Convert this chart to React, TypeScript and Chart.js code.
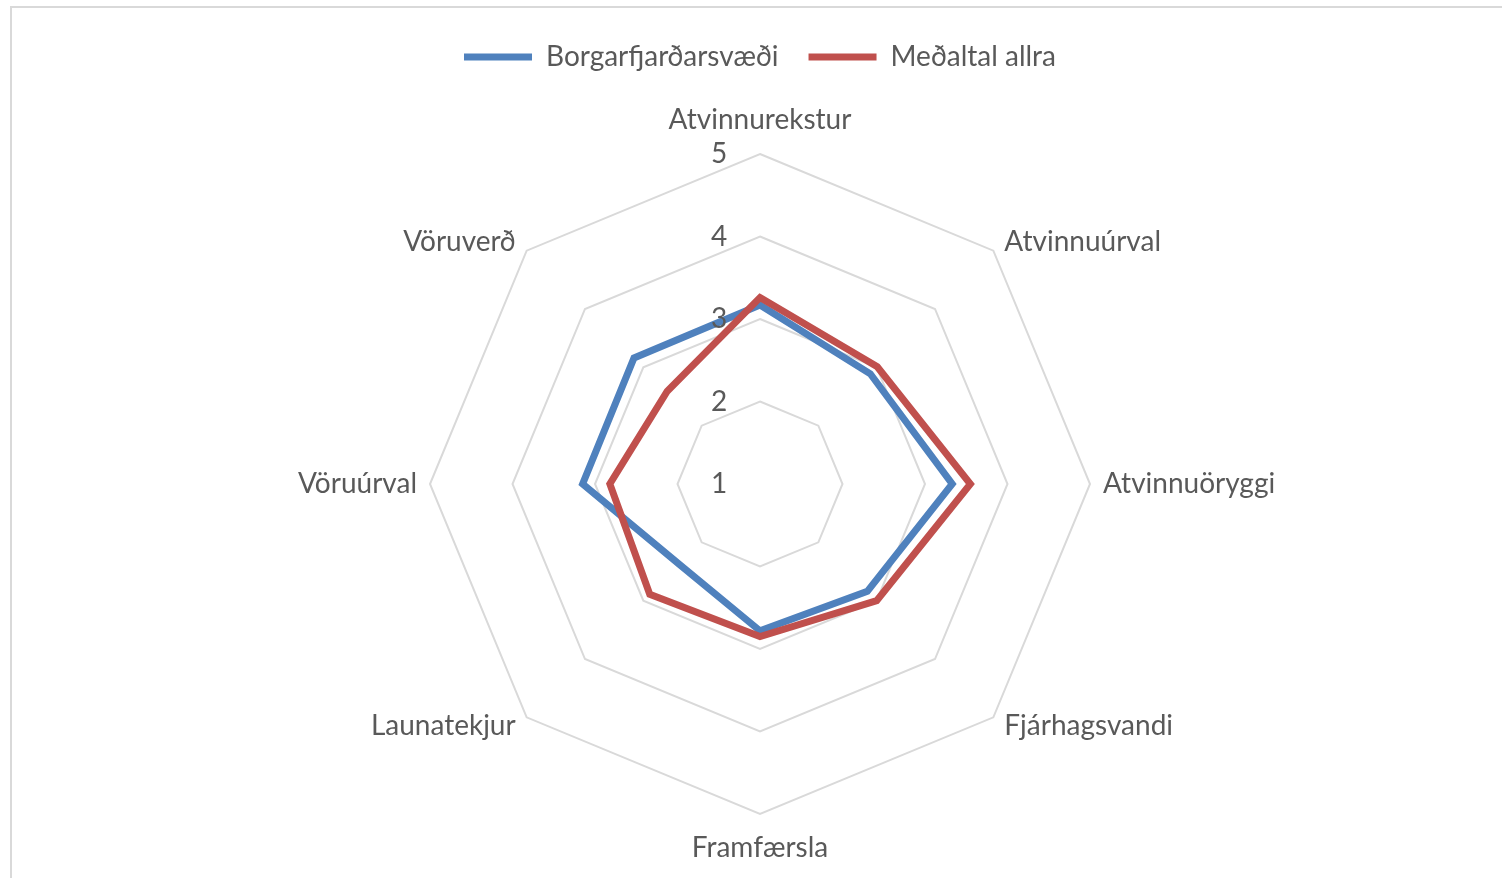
import React, { useEffect, useRef } from 'react';
import { Chart, registerables } from 'chart.js';

Chart.register(...registerables);

const categories = [
  'Atvinnurekstur',
  'Atvinnuúrval',
  'Atvinnuöryggi',
  'Fjárhagsvandi',
  'Framfærsla',
  'Launatekjur',
  'Vöruúrval',
  'Vöruverð',
];
const seriesNames = ['Borgarfjarðarsvæði', 'Meðaltal allra'];
const borgarfjordur = [3.17, 2.89, 3.33, 2.84, 2.78, 2.38, 3.15, 3.16];
const medaltal = [3.26, 3.01, 3.55, 3.0, 2.85, 2.89, 2.82, 2.59];
const tickLabels = ['1', '2', '3', '4', '5'];

const BLUE = '#4F81BD';
const RED = '#C0504D';
const TEXT = '#595959';
const GRID = '#d9d9d9';
const FONT = 'Lato, "Open Sans", sans-serif';
const FONT_SIZE = 28;

const labelPlugin = {
  id: 'radarText',
  afterDatasetsDraw(chart: any) {
    const scale = chart.scales.r;
    const ctx = chart.ctx;
    ctx.save();
    ctx.fillStyle = TEXT;
    ctx.font = `${FONT_SIZE}px ${FONT}`;
    ctx.textBaseline = 'middle';
    categories.forEach((label, i) => {
      const v = scale.getPointPosition(i, scale.drawingArea);
      const dx = (v.x - scale.xCenter) / scale.drawingArea;
      const dy = (v.y - scale.yCenter) / scale.drawingArea;
      let x = v.x;
      let y = v.y;
      if (Math.abs(dx) < 0.1) {
        ctx.textAlign = 'center';
        y = v.y + Math.sign(dy) * 34;
      } else if (Math.abs(dy) < 0.1) {
        ctx.textAlign = dx > 0 ? 'left' : 'right';
        x = v.x + Math.sign(dx) * 13;
      } else {
        ctx.textAlign = dx > 0 ? 'left' : 'right';
        x = v.x + Math.sign(dx) * 11;
        y = v.y + Math.sign(dy) * 9;
      }
      ctx.fillText(label, x, y);
    });
    ctx.textAlign = 'center';
    tickLabels.forEach((t) => {
      const d = scale.getDistanceFromCenterForValue(Number(t));
      ctx.fillText(t, scale.xCenter - 41, scale.yCenter - d);
    });
    ctx.restore();
  },
};

export default function App() {
  const canvasRef = useRef<HTMLCanvasElement | null>(null);

  useEffect(() => {
    if (!canvasRef.current) return;
    const chart = new Chart(canvasRef.current, {
      type: 'radar',
      data: {
        labels: categories,
        datasets: [
          {
            label: seriesNames[0],
            data: borgarfjordur,
            borderColor: BLUE,
            backgroundColor: BLUE,
            borderWidth: 7,
            fill: false,
            pointRadius: 0,
            pointHoverRadius: 0,
            tension: 0,
            order: 1,
          },
          {
            label: seriesNames[1],
            data: medaltal,
            borderColor: RED,
            backgroundColor: RED,
            borderWidth: 7,
            fill: false,
            pointRadius: 0,
            pointHoverRadius: 0,
            tension: 0,
            order: 0,
          },
        ],
      },
      options: {
        responsive: false,
        animation: false,
        events: [],
        layout: { padding: { top: 13, left: 18, right: 0, bottom: 64 } },
        plugins: {
          tooltip: { enabled: false },
          legend: {
            display: true,
            position: 'top',
            weight: 3000,
            labels: {
              boxWidth: 68,
              boxHeight: 7,
              padding: 30,
              color: TEXT,
              font: { family: FONT, size: FONT_SIZE },
              generateLabels: (chart: any) =>
                chart.data.datasets.map((ds: any, i: number) => ({
                  text: ds.label,
                  fillStyle: ds.borderColor,
                  strokeStyle: ds.borderColor,
                  lineWidth: 0,
                  hidden: false,
                  datasetIndex: i,
                  fontColor: TEXT,
                })),
            },
          },
          title: {
            display: true,
            text: '',
            position: 'top',
            font: { size: 10, lineHeight: 1 },
            padding: { top: 0, bottom: 63 },
          },
        },
        scales: {
          r: {
            min: 1,
            max: 5,
            ticks: { stepSize: 1, display: false },
            grid: { color: GRID, lineWidth: 2 },
            angleLines: { display: false },
            pointLabels: { display: false },
          },
        },
      },
      plugins: [labelPlugin],
    });
    return () => chart.destroy();
  }, []);

  return (
    <div style={{ position: 'absolute', left: 0, top: 0, width: 1502, height: 878, background: '#fff', overflow: 'hidden' }}>
      <div
        style={{
          position: 'absolute',
          left: 10,
          top: 6,
          width: 1600,
          height: 1000,
          borderTop: `2px solid ${GRID}`,
          borderLeft: `2px solid ${GRID}`,
        }}
      />
      <canvas
        ref={canvasRef}
        width={1502}
        height={878}
        style={{ position: 'absolute', left: 0, top: 0, width: 1502, height: 878 }}
      />
    </div>
  );
}
